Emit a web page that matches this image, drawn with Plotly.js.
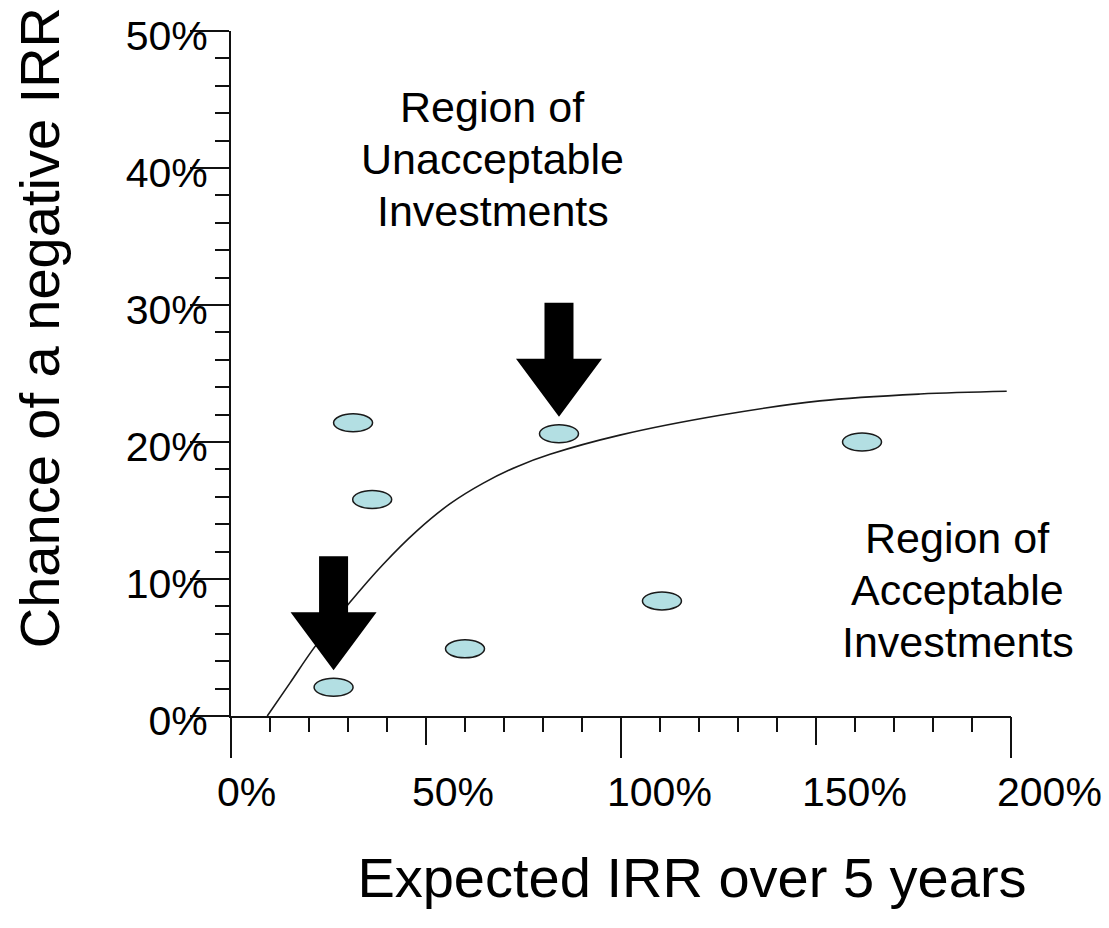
<!DOCTYPE html>
<html>
<head>
<meta charset="utf-8">
<script src="https://cdn.plot.ly/plotly-3.0.1.min.js"></script>
<style>html,body{margin:0;padding:0;background:#fff;}#chart{width:1109px;height:928px;}</style>
</head>
<body>
<div id="chart"></div>
<script>
// ---- data ----
const curveX = [9.3, 15.1, 21.1, 30.5, 39.1, 47.6, 56.2, 64.7, 73.3, 81.8, 99.7, 125.4, 151, 176.7, 198.9];
const curveY = [0, 2.4, 4.9, 8.3, 11.1, 13.5, 15.5, 17.0, 18.2, 19.1, 20.5, 21.95, 23.0, 23.5, 23.7];

const investX = [31.3, 36.2, 26.3, 84.1, 161.8, 110.5, 60.0];
const investY = [21.4, 15.8, 2.1, 20.6, 20.0, 8.4, 4.9];
const highlighted = [false, false, true, true, false, false, false];

const xTickVals = [0, 50, 100, 150, 200];
const xTickText = ['0%', '50%', '100%', '150%', '200%'];
const xLongTickVals = [0, 100, 200];
const yTickVals = [0, 10, 20, 30, 40, 50];
const yTickText = ['0%', '10%', '20%', '30%', '40%', '50%'];

const regionLines = [
  ['Region of', 'Unacceptable', 'Investments'],
  ['Region of', 'Acceptable', 'Investments']
];
const regionX = [67.05, 186.4];
const regionY = [40.65, 9.2];

const xTitle = 'Expected IRR over 5 years';
const yTitle = 'Chance of a negative IRR';

// ---- styling ----
const FONT = 'Liberation Sans, Arial, Helvetica, sans-serif';
const INK = '#111';
const LINE_GAP = 52;

const traces = [
  {
    type: 'scatter', mode: 'lines', x: curveX, y: curveY,
    line: {color: '#1a1a1a', width: 1.6, shape: 'spline', smoothing: 1},
    hoverinfo: 'skip', showlegend: false
  },
  {
    type: 'scatter', mode: 'markers', x: investX, y: investY, xaxis: 'x2',
    marker: {size: 18, color: 'rgba(0,0,0,0)'},
    showlegend: false, name: 'Investments'
  },
  // transparent helpers so the title-carrying axes get drawn
  {
    type: 'scatter', mode: 'lines', x: curveX, y: curveY, xaxis: 'x3', yaxis: 'y',
    line: {color: 'rgba(0,0,0,0)', width: 0}, hoverinfo: 'skip', showlegend: false
  },
  {
    type: 'scatter', mode: 'lines', x: curveX, y: curveY, xaxis: 'x', yaxis: 'y3',
    line: {color: 'rgba(0,0,0,0)', width: 0}, hoverinfo: 'skip', showlegend: false
  }
];

const shapes = [];
for (let i = 0; i < investX.length; i++) {
  if (highlighted[i]) {
    shapes.push({
      type: 'path', xref: 'x', yref: 'y',
      xsizemode: 'pixel', ysizemode: 'pixel',
      xanchor: investX[i], yanchor: investY[i],
      path: 'M0,17 L-43,75 L-14.5,75 L-14.5,131 L14.5,131 L14.5,75 L43,75 Z',
      fillcolor: '#000', line: {width: 0}, layer: 'above'
    });
  }
  shapes.push({
    type: 'circle', xref: 'x', yref: 'y',
    xsizemode: 'pixel', ysizemode: 'pixel',
    xanchor: investX[i], yanchor: investY[i],
    x0: -19.5, x1: 19.5, y0: -9, y1: 9,
    fillcolor: '#b3dfe3', line: {color: '#1a1a1a', width: 1.5}, layer: 'above'
  });
}

const annotations = [];
regionLines.forEach((lines, i) => {
  lines.forEach((t, j) => {
    annotations.push({
      text: t, x: regionX[i], y: regionY[i], xref: 'x', yref: 'y',
      yshift: (1 - j) * LINE_GAP,
      showarrow: false, xanchor: 'center', yanchor: 'middle', align: 'center',
      font: {family: FONT, size: 43, color: '#000'}
    });
  });
});

const hidden = {visible: true, showline: false, ticks: '', showticklabels: false, showgrid: false, zeroline: false, fixedrange: true};

const layout = {
  width: 1109, height: 928,
  margin: {l: 231, r: 98, t: 31, b: 212, pad: 0},
  paper_bgcolor: '#fff', plot_bgcolor: 'rgba(0,0,0,0)',
  font: {family: FONT, color: '#000'},
  showlegend: false,
  xaxis: {
    range: [0, 200], autorange: false,
    tickmode: 'array', tickvals: xTickVals, ticktext: xTickText,
    ticks: 'outside', ticklen: 27, tickwidth: 2, tickcolor: INK,
    minor: {dtick: 10, tick0: 0, ticks: 'outside', ticklen: 14, tickwidth: 2, tickcolor: INK, showgrid: false},
    showline: true, linewidth: 2, linecolor: INK,
    showgrid: false, zeroline: false,
    tickfont: {family: FONT, size: 41, color: '#000'},
    ticklabelposition: 'outside right', ticklabelshift: -16, ticklabelstandoff: 39
  },
  xaxis2: {
    overlaying: 'x', matches: 'x', anchor: 'y', side: 'bottom',
    tickmode: 'array', tickvals: xLongTickVals,
    ticks: 'outside', ticklen: 41, tickwidth: 2, tickcolor: INK,
    showticklabels: false, showline: false, showgrid: false, zeroline: false
  },
  xaxis3: Object.assign({}, hidden, {
    domain: [0.182, 1], anchor: 'y', range: [0, 200], autorange: false,
    title: {text: xTitle, font: {family: FONT, size: 56, color: '#000'}, standoff: 141}
  }),
  yaxis: {
    range: [0, 50], autorange: false,
    tickmode: 'array', tickvals: yTickVals, ticktext: yTickText,
    ticks: 'outside', ticklen: 39, tickwidth: 2, tickcolor: INK,
    minor: {dtick: 2, tick0: 0, ticks: 'outside', ticklen: 14, tickwidth: 2, tickcolor: INK, showgrid: false},
    showline: true, linewidth: 2, linecolor: INK,
    showgrid: false, zeroline: false,
    tickfont: {family: FONT, size: 41, color: '#000'},
    ticklabelstandoff: -26, ticklabelshift: 5
  },
  yaxis3: Object.assign({}, hidden, {
    domain: [0.134, 1], anchor: 'x', range: [0, 50], autorange: false,
    title: {text: yTitle, font: {family: FONT, size: 56, color: '#000'}, standoff: 152}
  }),
  shapes: shapes,
  annotations: annotations
};

Plotly.newPlot('chart', traces, layout, {staticPlot: true, displayModeBar: false});
</script>
</body>
</html>
